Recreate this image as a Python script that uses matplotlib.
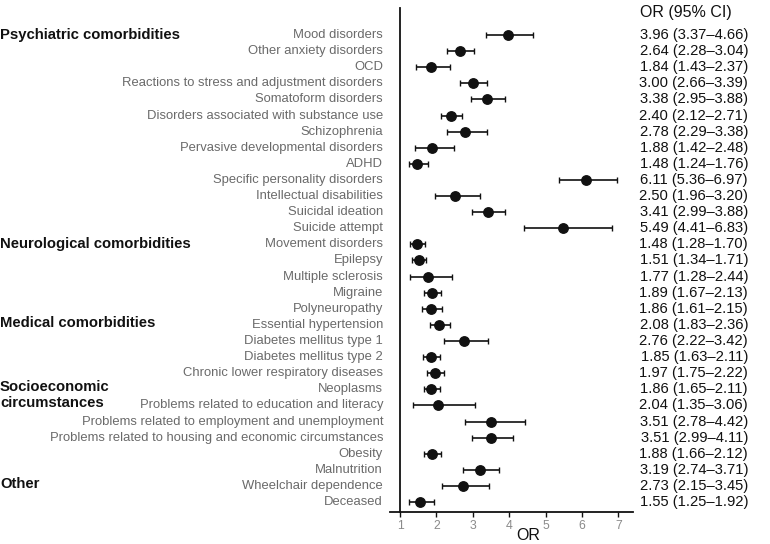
import matplotlib
matplotlib.use("Agg")
import matplotlib.pyplot as plt
import matplotlib.transforms as mtransforms

labels = [
    "Mood disorders", "Other anxiety disorders", "OCD",
    "Reactions to stress and adjustment disorders", "Somatoform disorders",
    "Disorders associated with substance use", "Schizophrenia",
    "Pervasive developmental disorders", "ADHD", "Specific personality disorders",
    "Intellectual disabilities", "Suicidal ideation", "Suicide attempt",
    "Movement disorders", "Epilepsy", "Multiple sclerosis", "Migraine",
    "Polyneuropathy", "Essential hypertension", "Diabetes mellitus type 1",
    "Diabetes mellitus type 2", "Chronic lower respiratory diseases", "Neoplasms",
    "Problems related to education and literacy",
    "Problems related to employment and unemployment",
    "Problems related to housing and economic circumstances",
    "Obesity", "Malnutrition", "Wheelchair dependence", "Deceased",
]
odds = [3.96, 2.64, 1.84, 3.00, 3.38, 2.40, 2.78, 1.88, 1.48, 6.11, 2.50, 3.41, 5.49,
        1.48, 1.51, 1.77, 1.89, 1.86, 2.08, 2.76, 1.85, 1.97, 1.86, 2.04, 3.51, 3.51,
        1.88, 3.19, 2.73, 1.55]
lower = [3.37, 2.28, 1.43, 2.66, 2.95, 2.12, 2.29, 1.42, 1.24, 5.36, 1.96, 2.99, 4.41,
         1.28, 1.34, 1.28, 1.67, 1.61, 1.83, 2.22, 1.63, 1.75, 1.65, 1.35, 2.78, 2.99,
         1.66, 2.74, 2.15, 1.25]
upper = [4.66, 3.04, 2.37, 3.39, 3.88, 2.71, 3.38, 2.48, 1.76, 6.97, 3.20, 3.88, 6.83,
         1.70, 1.71, 2.44, 2.13, 2.15, 2.36, 3.42, 2.11, 2.22, 2.11, 3.06, 4.42, 4.11,
         2.12, 3.71, 3.45, 1.92]
groups = [("Psychiatric comorbidities", 0.0), ("Neurological comorbidities", 12.95),
          ("Medical comorbidities", 17.9), ("Socioeconomic\ncircumstances", 22.35),
          ("Other", 27.9)]
xticks = [1, 2, 3, 4, 5, 6, 7]

plt.rcParams['font.family'] = ['Liberation Sans', 'DejaVu Sans']
fig = plt.figure(figsize=(7.7, 5.44), dpi=100)
ax = fig.add_axes([390/770, 1-512/544, (633-390)/770, (512-8)/544])

n = len(labels)
ys = list(range(n))
xerr = [[o - l for o, l in zip(odds, lower)], [u - o for o, u in zip(odds, upper)]]
ax.errorbar(odds, ys, xerr=xerr, fmt='o', color='#111111', ecolor='#111111',
            markersize=6.8, elinewidth=1.2, capsize=2.5, capthick=1.0)

ax.set_xlim(0.725, 7.4)
ax.set_ylim(29.62, -1.68)
ax.set_xticks(xticks)
ax.set_xticklabels([str(t) for t in xticks], color='#8a8a8a', fontsize=8.8)
ax.tick_params(axis='x', length=3.5, width=1, color='#111111', pad=2)
ax.set_yticks([])
for s in ['top', 'right']:
    ax.spines[s].set_visible(False)
for s in ['left', 'bottom']:
    ax.spines[s].set_linewidth(1.3)
    ax.spines[s].set_color('#111111')
ax.spines['left'].set_position(('data', 1))
fig.text(528/770, 1-536/544, "OR", ha='center', va='center', fontsize=11.5,
         color='#111111')

trans = mtransforms.blended_transform_factory(fig.transFigure, ax.transData)
for y, lab in zip(ys, labels):
    fig.text(383/770, y, lab, transform=trans, ha='right', va='center',
             fontsize=9.4, color='#6a6a6a')
for y, o, l, u in zip(ys, odds, lower, upper):
    fig.text(748/770, y, f"{o:.2f} ({l:.2f}\u2013{u:.2f})", transform=trans,
             ha='right', va='center', fontsize=10.6, color='#111111')
for name, y in groups:
    fig.text(0.0, y, name, transform=trans, ha='left', va='center',
             fontsize=10.7, fontweight='bold', color='#111111', linespacing=1.15)
fig.text(686/770, 1-12/544, "OR (95% CI)", ha='center', va='center',
         fontsize=11.5, color='#111111')

fig.savefig("out.png", dpi=100)
